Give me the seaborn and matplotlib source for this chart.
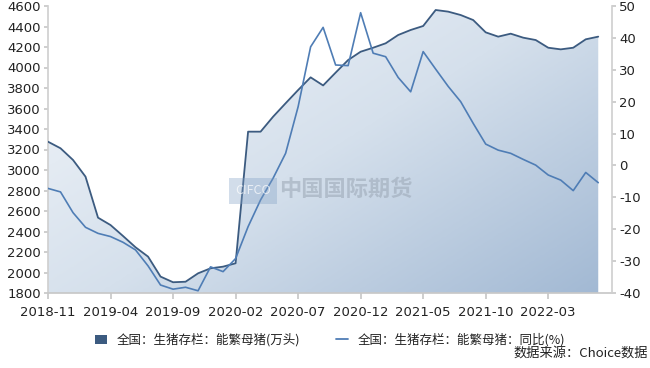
import numpy as np
import pandas as pd
import seaborn as sns
import matplotlib
matplotlib.use("Agg")
import matplotlib.pyplot as plt
from matplotlib.patches import Patch
from matplotlib.lines import Line2D
from matplotlib.colors import LinearSegmentedColormap

months = ["2018-11", "2018-12", "2019-01", "2019-02", "2019-03", "2019-04", "2019-05", "2019-06",
          "2019-07", "2019-08", "2019-09", "2019-10", "2019-11", "2019-12", "2020-01", "2020-02",
          "2020-03", "2020-04", "2020-05", "2020-06", "2020-07", "2020-08", "2020-09", "2020-10",
          "2020-11", "2020-12", "2021-01", "2021-02", "2021-03", "2021-04", "2021-05", "2021-06",
          "2021-07", "2021-08", "2021-09", "2021-10", "2021-11", "2021-12", "2022-01", "2022-02",
          "2022-03", "2022-04", "2022-05", "2022-06", "2022-07"]

sow_stock = [3276, 3212, 3098, 2935, 2535, 2463, 2356, 2246, 2155, 1960, 1905, 1910,
             1992, 2041, 2057, 2090, 3374, 3374, 3520, 3651, 3780, 3904, 3825, 3950,
             4073, 4154, 4193, 4236, 4317, 4366, 4405, 4561, 4545, 4512, 4463, 4343,
             4301, 4330, 4291, 4268, 4193, 4177, 4193, 4275, 4301]

sow_yoy = [-7.2, -8.3, -14.8, -19.4, -21.3, -22.3, -24.1, -26.5, -31.5, -37.5, -38.8, -38.2,
           -39.3, -31.8, -33.3, -29.2, -19.2, -10.8, -4.0, 3.8, 18.4, 37.2, 43.3, 31.5,
           31.3, 47.9, 35.2, 34.1, 27.6, 23.1, 35.7, 30.2, 24.8, 20.0, 13.2, 6.7,
           4.8, 3.8, 1.9, 0.1, -3.0, -4.6, -7.9, -2.2, -5.4]

label_area = "全国：生猪存栏：能繁母猪(万头)"
label_line = "全国：生猪存栏：能繁母猪：同比(%)"
source_text = "数据来源：Choice数据"
left_ticks = list(range(1800, 4601, 200))
right_ticks = list(range(-40, 51, 10))

sns.set_theme(style="white")
plt.rcParams["font.family"] = ["Noto Sans CJK SC", "DejaVu Sans"]

df = pd.DataFrame({"idx": np.arange(len(months)), "month": months,
                   "stock": sow_stock, "yoy": sow_yoy})

fig = plt.figure(figsize=(6.5, 3.68), dpi=100)
ax = fig.add_axes([48 / 650, 1 - 293 / 368, (612 - 48) / 650, (293 - 6) / 368])
ax.set_facecolor("none")

x_max = 45.1
ax.set_xlim(0, x_max)
ax.set_ylim(1800, 4600)

# gradient-filled area
poly = ax.fill_between(df["idx"], df["stock"], 1800, facecolor="none", edgecolor="none")
cmap = LinearSegmentedColormap.from_list("g", ["#f3f6fa", "#d5e0ec", "#a1b8d3"])
gx, gy = np.meshgrid(np.linspace(0, 1, 300), np.linspace(0, 1, 200))
grad = 0.55 * gx + 0.45 * gy
im = ax.imshow(grad, extent=[0, x_max, 1800, 4600], origin="upper", aspect="auto",
               cmap=cmap, zorder=1, interpolation="bilinear")
im.set_clip_path(poly.get_paths()[0], ax.transData)

sns.lineplot(data=df, x="idx", y="stock", ax=ax, color="#3c5b80", linewidth=1.3, zorder=3,
             legend=False)

ax2 = ax.twinx()
sns.lineplot(data=df, x="idx", y="yoy", ax=ax2, color="#4f7db5", linewidth=1.2, zorder=4,
             legend=False)
ax2.set_ylim(-40, 50)
ax2.set_xlim(0, x_max)

tick_idx = list(range(0, len(months), 5))
ax.set_xticks(tick_idx)
ax.set_xticklabels([months[i] for i in tick_idx], family="DejaVu Sans", fontsize=9.5,
                   color="#222222")
ax.set_yticks(left_ticks)
ax.set_yticklabels([str(v) for v in left_ticks], family="DejaVu Sans", fontsize=9.5,
                   color="#222222")
ax2.set_yticks(right_ticks)
ax2.set_yticklabels([str(v) for v in right_ticks], family="DejaVu Sans", fontsize=9.5,
                    color="#222222")
for a in (ax, ax2):
    a.set_xlabel("")
    a.set_ylabel("")
    a.grid(False)
    for s in a.spines.values():
        s.set_visible(False)
ax.spines["left"].set_visible(True)
ax.spines["left"].set_color("#d0d0d0")
ax.spines["bottom"].set_visible(True)
ax.spines["bottom"].set_color("#c8c8c8")
ax2.spines["right"].set_visible(True)
ax2.spines["right"].set_color("#d0d0d0")
ax.tick_params(axis="y", length=3, color="#c8c8c8", pad=2, left=True)
ax.tick_params(axis="x", length=4, color="#c8c8c8", pad=5, bottom=True)
ax2.tick_params(axis="y", length=3, color="#c8c8c8", pad=2, right=True)

# watermark
fig.text(346 / 650, 1 - 189 / 368, "中国国际期货", fontsize=16, fontweight="bold",
         color="#9aa6b4", alpha=0.55, ha="center", va="center")
fig.text(253 / 650, 1 - 191 / 368, "CIFCO", fontsize=9, color="#ffffff", alpha=0.7,
         ha="center", va="center",
         bbox=dict(boxstyle="square,pad=0.5", fc="#7f9fc4", ec="none", alpha=0.35))

handles = [Patch(facecolor="#3c5b80", edgecolor="none"),
           Line2D([0], [0], color="#4f7db5", linewidth=1.3)]
fig.legend(handles, [label_area, label_line], loc="center", ncol=2,
           bbox_to_anchor=(330 / 650, 1 - 340 / 368), frameon=False, fontsize=9,
           handlelength=1.0, handleheight=0.8, handletextpad=0.8, columnspacing=2.8,
           labelcolor="#222222")

fig.text(648 / 650, 1 - 353 / 368, source_text, fontsize=9.5, color="#222222",
         ha="right", va="center")

fig.savefig("out.png", dpi=100)
